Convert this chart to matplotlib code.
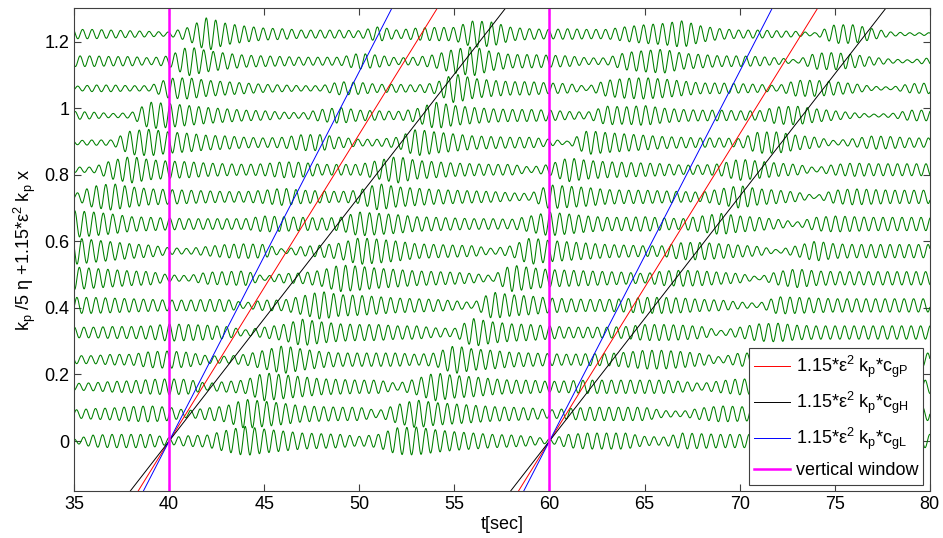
import numpy as np
import matplotlib
matplotlib.use('Agg')
import matplotlib.pyplot as plt

plt.rcParams['font.family'] = ['Liberation Sans', 'DejaVu Sans']
plt.rcParams['mathtext.default'] = 'regular'

# envelope of each trace (half peak-to-peak, x500), read at t = 35, 36, ..., 80
knot_t = list(range(35, 81))
trace_00 = [3, 9, 10, 10, 10, 5, 8, 9, 16, 22, 18, 15, 12, 11, 10, 7, 10, 20, 21, 17, 14, 12, 10, 9, 7, 3,
            10, 12, 12, 12, 7, 6, 12, 11, 10, 10, 10, 10, 10, 10, 10, 10, 10, 10, 10, 10]
trace_01 = [6, 8, 9, 11, 12, 10, 5, 9, 12, 22, 19, 16, 12, 11, 10, 10, 5, 14, 21, 17, 15, 13, 11, 10, 9, 6,
            8, 10, 10, 10, 10, 5, 4, 9, 12, 11, 10, 10, 10, 10, 10, 10, 10, 10, 10, 10]
trace_02 = [5, 6, 8, 9, 11, 12, 11, 5, 8, 10, 21, 18, 15, 12, 11, 10, 10, 5, 12, 21, 17, 15, 12, 10, 10, 8,
            9, 10, 10, 10, 10, 10, 8, 5, 9, 12, 11, 10, 10, 10, 10, 10, 10, 10, 10, 10]
trace_03 = [6, 6, 8, 8, 12, 13, 11, 6, 5, 8, 14, 21, 16, 12, 10, 10, 10, 10, 8, 10, 21, 16, 14, 11, 10, 9,
            8, 9, 9, 11, 14, 14, 12, 9, 4, 10, 10, 10, 10, 10, 10, 10, 10, 10, 10, 10]
trace_04 = [8, 8, 9, 9, 10, 13, 12, 11, 9, 4, 8, 12, 20, 16, 13, 12, 12, 10, 10, 7, 6, 21, 16, 13, 12, 10,
            8, 8, 8, 9, 12, 12, 11, 9, 3, 8, 13, 14, 11, 10, 10, 10, 10, 10, 10, 10]
trace_05 = [12, 12, 11, 10, 9, 8, 8, 9, 9, 4, 8, 8, 14, 21, 16, 15, 13, 11, 10, 9, 7, 4, 20, 16, 14, 11,
            10, 9, 9, 10, 12, 12, 11, 9, 8, 5, 3, 13, 12, 11, 10, 10, 10, 10, 10, 10]
trace_06 = [17, 15, 13, 11, 10, 5, 4, 9, 10, 11, 3, 7, 8, 12, 20, 18, 15, 13, 11, 10, 9, 7, 4, 20, 16, 13,
            12, 11, 10, 9, 7, 11, 12, 11, 9, 7, 2, 10, 14, 11, 10, 10, 10, 10, 10, 10]
trace_07 = [20, 17, 14, 11, 9, 5, 4, 7, 10, 11, 10, 3, 7, 9, 12, 20, 18, 15, 11, 10, 9, 8, 4, 8, 20, 16,
            14, 12, 10, 9, 8, 8, 13, 13, 11, 9, 7, 2, 8, 15, 11, 10, 10, 10, 10, 10]
trace_08 = [20, 18, 15, 11, 10, 9, 8, 8, 8, 8, 12, 11, 10, 9, 10, 18, 16, 14, 11, 10, 9, 8, 8, 7, 12, 18,
            15, 12, 10, 10, 11, 9, 8, 12, 16, 12, 10, 7, 3, 10, 12, 11, 10, 10, 10, 10]
trace_09 = [4, 16, 20, 15, 12, 11, 10, 9, 8, 8, 10, 13, 10, 9, 8, 10, 20, 15, 13, 11, 10, 9, 8, 6, 5, 18,
            16, 14, 11, 10, 10, 9, 8, 7, 12, 17, 12, 10, 7, 2, 10, 12, 11, 10, 10, 10]
trace_10 = [4, 4, 14, 20, 15, 13, 12, 10, 9, 8, 9, 12, 11, 8, 8, 8, 14, 20, 14, 12, 10, 9, 8, 8, 4, 8,
            18, 14, 12, 11, 10, 9, 7, 7, 9, 16, 13, 10, 8, 3, 8, 10, 9, 9, 9, 9]
trace_11 = [3, 4, 4, 18, 20, 16, 14, 11, 10, 8, 7, 8, 12, 12, 8, 5, 5, 8, 20, 16, 13, 10, 9, 8, 8, 5,
            2, 18, 15, 13, 11, 9, 8, 7, 7, 6, 16, 16, 11, 8, 3, 6, 10, 9, 7, 7]
trace_12 = [6, 5, 3, 4, 20, 18, 15, 12, 10, 8, 7, 5, 4, 9, 12, 8, 7, 6, 10, 20, 15, 12, 10, 9, 9, 8,
            6, 5, 14, 13, 15, 11, 9, 8, 8, 7, 7, 13, 14, 10, 7, 4, 2, 3, 8, 8]
trace_13 = [3, 5, 5, 4, 4, 15, 16, 12, 10, 8, 6, 5, 4, 4, 10, 9, 6, 6, 5, 8, 22, 15, 12, 10, 10, 8,
            7, 3, 12, 15, 16, 14, 11, 8, 8, 7, 6, 4, 12, 12, 10, 7, 3, 2, 7, 8]
trace_14 = [8, 8, 7, 7, 5, 8, 22, 16, 12, 9, 8, 7, 6, 6, 6, 12, 9, 5, 6, 10, 18, 22, 14, 10, 10, 9,
            8, 5, 5, 13, 16, 18, 12, 10, 8, 8, 7, 5, 2, 12, 13, 10, 6, 3, 2, 5]
trace_15 = [7, 7, 6, 5, 4, 3, 10, 25, 16, 12, 9, 8, 6, 6, 6, 5, 11, 6, 9, 10, 10, 20, 18, 10, 8, 7,
            8, 7, 7, 11, 14, 16, 20, 12, 8, 6, 6, 5, 4, 2, 14, 14, 8, 3, 2, 2]
traces = [trace_00, trace_01, trace_02, trace_03, trace_04, trace_05, trace_06, trace_07,
          trace_08, trace_09, trace_10, trace_11, trace_12, trace_13, trace_14, trace_15]

offset_step = 0.0815      # 1.15*eps^2*kp*dx between traces
carrier_period = 0.5      # sec
group_speeds = {'P': 0.0922, 'H': 0.0735, 'L': 0.111}
group_colors = {'P': 'red', 'H': 'black', 'L': 'blue'}
window_t = [40, 60]

fig = plt.figure(figsize=(9.43, 5.38), dpi=100)
ax = fig.add_axes([0.0785, 0.0874, 0.9075, 0.8972])

t = np.arange(35, 80.001, 0.01)
for k, env in enumerate(traces):
    amp = np.interp(t, knot_t, env) / 500.0
    eta = amp * np.cos(2 * np.pi * (t - 0.13 * k) / carrier_period)
    ax.plot(t, k * offset_step + eta, color='#008000', lw=0.75)

for name in ['P', 'H', 'L']:
    for i, t0 in enumerate(window_t):
        ax.plot(t, group_speeds[name] * (t - t0), color=group_colors[name], lw=0.7,
                label=r'1.15*ε$^2$ k$_p$*c$_{g%s}$' % name if i == 0 else None)

for i, t0 in enumerate(window_t):
    ax.axvline(t0, color='magenta', lw=1.8, label='vertical window' if i == 0 else None)

ax.set_xlim(35, 80)
ax.set_ylim(-0.15, 1.3)
ax.set_xticks(np.arange(35, 81, 5))
ax.set_yticks([0, 0.2, 0.4, 0.6, 0.8, 1.0, 1.2])
ax.set_yticklabels(['0', '0.2', '0.4', '0.6', '0.8', '1', '1.2'])
ax.tick_params(direction='in', top=True, right=True, length=5, labelsize=13, color='#404040')
for s in ax.spines.values():
    s.set_color('#404040')
    s.set_linewidth(0.8)

ax.set_xlabel('t[sec]', fontsize=13, labelpad=2)
ax.set_ylabel(r'k$_p$ /5 η +1.15*ε$^2$ k$_p$ x', fontsize=13, labelpad=4)

leg = ax.legend(loc='lower right', fontsize=13, fancybox=False, framealpha=1,
                edgecolor='#404040', borderaxespad=0.35, handlelength=2.0,
                labelspacing=0.55, borderpad=0.3, handletextpad=0.3)
leg.get_frame().set_linewidth(0.8)

fig.savefig('out.png', dpi=100)
